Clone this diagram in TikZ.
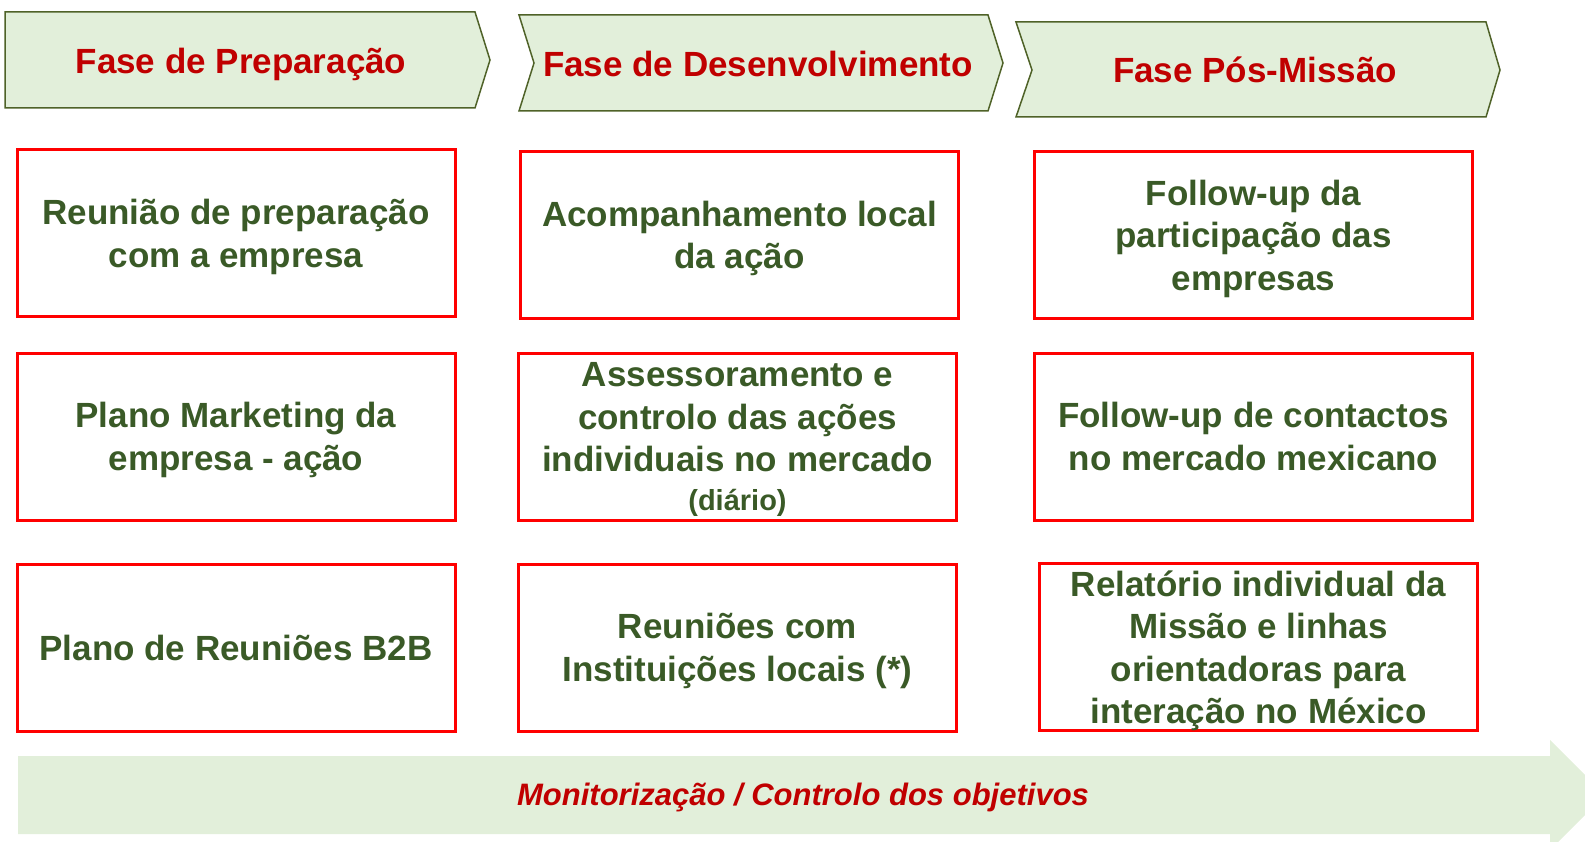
\documentclass[tikz,border=0pt]{standalone}
\usepackage{fontspec}
\setmainfont{Liberation Sans}
\usetikzlibrary{positioning}

\definecolor{fundoverde}{HTML}{E2EFDA}
\definecolor{bordaverde}{HTML}{4F6228}
\definecolor{vermelhoescuro}{HTML}{C00000}
\definecolor{textoverde}{HTML}{3A5A27}

\tikzset{
	fase/.style={fill=fundoverde,draw=bordaverde,line width=1.5pt,line join=miter},
	fasetexto/.style={text=vermelhoescuro,font=\bfseries\fontsize{35}{42}\selectfont},
	caixa/.style={draw=red,line width=3pt,minimum width=438pt,minimum height=167pt,
		align=center,text=textoverde,font=\bfseries\fontsize{35}{42.5}\selectfont,
		text depth=-2pt},
	seta/.style={fill=fundoverde,draw=none}
}

\begin{document}
\begin{tikzpicture}[x=1pt,y=-1pt]
	\useasboundingbox (0,0) rectangle (1585,842);
	\clip (0,0) rectangle (1585,842);

	% fases
	\path[fase] (5,12) -- (475,12) -- (490,60) -- (475,108) -- (5,108) -- cycle;
	\path[fase] (519,15) -- (988,15) -- (1003,63) -- (988,111) -- (519,111) -- (534,63) -- cycle;
	\path[fase] (1016,22) -- (1486,22) -- (1500,70) -- (1486,117) -- (1016,117) -- (1032,70) -- cycle;
	\node[fasetexto] (preparacao) at (241,64) {Fase de Preparação};
	\node[fasetexto] (desenvolvimento) at (758,64) {Fase de Desenvolvimento};
	\node[fasetexto] (posmissao) at (1255,70) {Fase Pós-Missão};

	% caixas
	\node[caixa] (reuniao) at (236,233.5) {Reunião de preparação\\com a empresa};
	\node[caixa] (marketing) at (236,436.5) {Plano Marketing da\\empresa - ação};
	\node[caixa] (btob) at (236,647.5) {Plano de Reuniões B2B};

	\node[caixa] (acompanhamento) at (739.5,235) {Acompanhamento local\\da ação};
	\node[caixa] (assessoramento) at (737.5,436.5) {Assessoramento e\\controlo das ações\\individuais no mercado\\[-4pt]
		{\fontsize{29}{34}\selectfont (diário)}};
	\node[caixa] (instituicoes) at (737.5,647.5) {Reuniões com\\Instituições locais (*)};

	\node[caixa] (followup) at (1253.5,235) {Follow-up da\\participação das\\empresas};
	\node[caixa] (contactos) at (1253.5,436.5) {Follow-up de contactos\\no mercado mexicano};
	\node[caixa] (relatorio) at (1258.5,647) {Relatório individual da\\Missão e linhas\\orientadoras para\\interação no México};

	% monitorizacao
	\path[seta] (18,756) -- (1550,756) -- (1550,740) -- (1605,795) -- (1550,850) -- (1550,834) -- (18,834) -- cycle;
	\node[text=vermelhoescuro,font=\bfseries\itshape\fontsize{31}{36}\selectfont] (monitorizacao) at (803,797.5) {Monitorização / Controlo dos objetivos};
\end{tikzpicture}
\end{document}
